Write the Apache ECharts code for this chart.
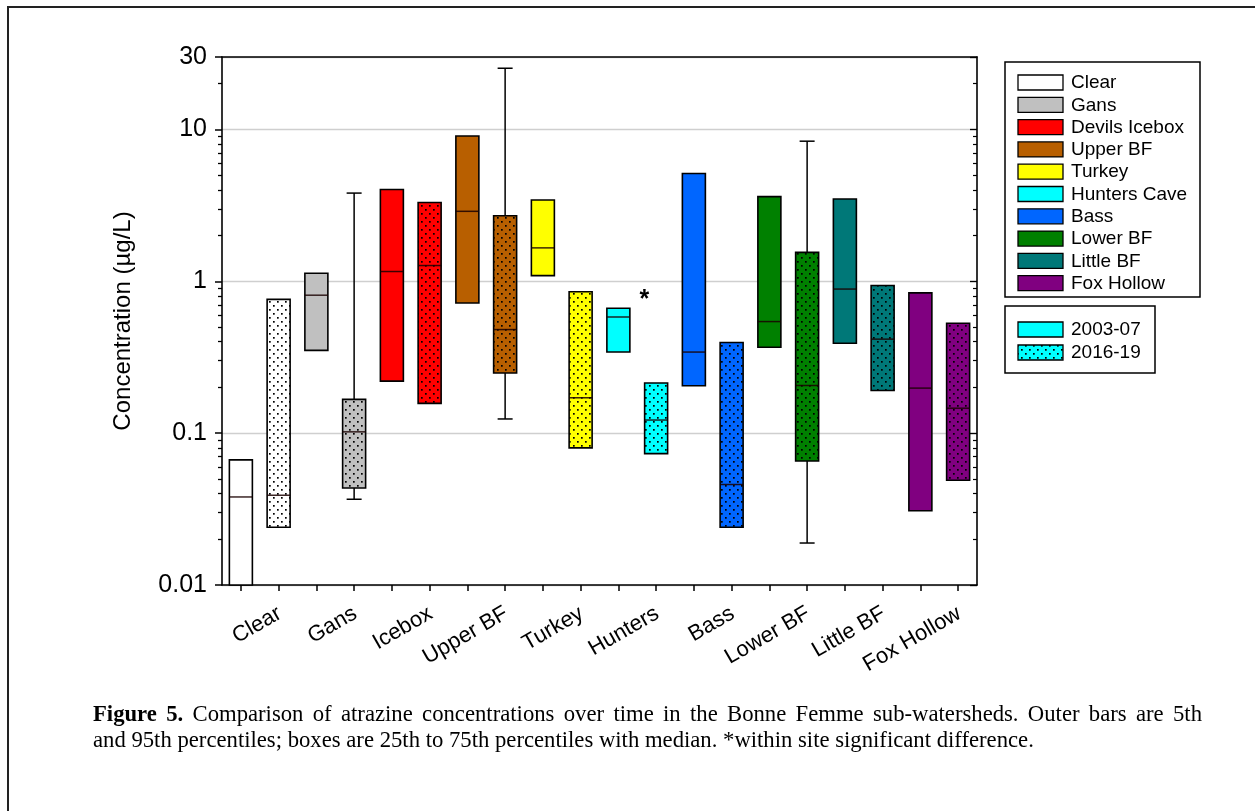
<!DOCTYPE html>
<html>
<head>
<meta charset="utf-8">
<title>Atrazine concentrations, Bonne Femme sub-watersheds</title>
<script src="https://cdn.jsdelivr.net/npm/echarts@6/dist/echarts.min.js"></script>
<style>
  html, body { margin: 0; padding: 0; background: #ffffff; }
  #chart { width: 1255px; height: 811px; }
</style>
</head>
<body>
<div id="chart"></div>
<script>
// ---- data ----------------------------------------------------------------
// Sub-watershed names (legend) and short names used under the axis
const sites = ['Clear', 'Gans', 'Devils Icebox', 'Upper BF', 'Turkey',
               'Hunters Cave', 'Bass', 'Lower BF', 'Little BF', 'Fox Hollow'];
const axisSites = ['Clear', 'Gans', 'Icebox', 'Upper BF', 'Turkey',
                   'Hunters', 'Bass', 'Lower BF', 'Little BF', 'Fox Hollow'];
const periods = ['2003-07', '2016-19'];
const siteColors = ['#ffffff', '#c0c0c0', '#ff0000', '#b85f00', '#ffff00',
                    '#00ffff', '#0066ff', '#008000', '#007878', '#800080'];

// One box per site and period (site order, 2003-07 first), atrazine in ug/L
const p5  = [null, null, null, 0.0367, null, null, null, 0.124, null, null,
             null, null, null, null, null, 0.0189, null, null, null, null];
const p25 = [0.01, 0.024, 0.351, 0.0435, 0.22, 0.157, 0.719, 0.249, 1.09, 0.080,
             0.342, 0.0733, 0.205, 0.024, 0.368, 0.0656, 0.391, 0.191, 0.0308, 0.049];
const p50 = [0.038, 0.039, 0.81, 0.102, 1.16, 1.27, 2.89, 0.481, 1.66, 0.171,
             0.582, 0.122, 0.342, 0.0459, 0.543, 0.206, 0.889, 0.416, 0.198, 0.146];
const p75 = [0.0667, 0.76, 1.13, 0.167, 4.02, 3.30, 9.06, 2.70, 3.43, 0.853,
             0.664, 0.214, 5.13, 0.395, 3.61, 1.55, 3.48, 0.938, 0.839, 0.529];
const p95 = [null, null, null, 3.81, null, null, null, 25.3, null, null,
             null, null, null, null, null, 8.37, null, null, null, null];

// Significant-difference marker (between the Hunters Cave boxes)
const starBox = 10;
const starShift = 0.69;
const starValue = 0.787;

// Axis ticks
const yMajorTicks = [0.01, 0.1, 1, 10, 30];
const yMinorTicks = [0.02, 0.03, 0.04, 0.05, 0.06, 0.07, 0.08, 0.09,
                     0.2, 0.3, 0.4, 0.5, 0.6, 0.7, 0.8, 0.9,
                     2, 3, 4, 5, 6, 7, 8, 9, 20];

const captionBold = 'Figure 5.';
const captionLine1 = 'Comparison of atrazine concentrations over time in the Bonne Femme sub-watersheds. Outer bars are 5th';
const captionLine2 = 'and 95th percentiles; boxes are 25th to 75th percentiles with median. *within site significant difference.';

// ---- helpers --------------------------------------------------------------
const SANS = '"Liberation Sans", Arial, Helvetica, sans-serif';
const SERIF = '"Liberation Serif", "Times New Roman", serif';

const boxKeys = [];
sites.forEach(s => periods.forEach(p => boxKeys.push(s + ' ' + p)));

// Stippled fill used for the 2016-19 boxes
function makeDots() {
  const c = document.createElement('canvas');
  c.width = 8; c.height = 8;
  const g = c.getContext('2d');
  g.fillStyle = '#000000';
  g.fillRect(1, 1, 1.7, 1.7);
  g.fillRect(5, 5, 1.7, 1.7);
  return c;
}
const dots = makeDots();
const dotFill = { image: dots, repeat: 'repeat' };

const boxData = boxKeys.map((k, i) => [i, p25[i], p50[i], p75[i], p5[i], p95[i]]);

const BOX_W = 23;
const CAP_W = 15;
const LINE = '#000000';

function renderBox(params, api) {
  const i = api.value(0);
  const site = Math.floor(i / 2);
  const dotted = i % 2 === 1;
  const cx = api.coord([i, 1])[0];
  const yLo = api.coord([i, api.value(1)])[1];
  const yMed = api.coord([i, api.value(2)])[1];
  const yHi = api.coord([i, api.value(3)])[1];
  const w5 = api.value(4), w95 = api.value(5);
  const x0 = cx - BOX_W / 2;
  const kids = [];
  const ln = { stroke: LINE, lineWidth: 1.5 };
  if (!isNaN(w95)) {
    const y95 = api.coord([i, w95])[1];
    kids.push({ type: 'line', shape: { x1: cx, y1: yHi, x2: cx, y2: y95 }, style: ln });
    kids.push({ type: 'line', shape: { x1: cx - CAP_W / 2, y1: y95, x2: cx + CAP_W / 2, y2: y95 }, style: ln });
  }
  if (!isNaN(w5)) {
    const y5 = api.coord([i, w5])[1];
    kids.push({ type: 'line', shape: { x1: cx, y1: yLo, x2: cx, y2: y5 }, style: ln });
    kids.push({ type: 'line', shape: { x1: cx - CAP_W / 2, y1: y5, x2: cx + CAP_W / 2, y2: y5 }, style: ln });
  }
  const rect = { x: x0, y: yHi, width: BOX_W, height: yLo - yHi };
  kids.push({ type: 'rect', shape: rect, style: { fill: siteColors[site] } });
  if (dotted) kids.push({ type: 'rect', shape: rect, style: { fill: dotFill } });
  kids.push({ type: 'rect', shape: rect, style: { fill: 'none', stroke: LINE, lineWidth: 1.6 } });
  kids.push({ type: 'line', shape: { x1: x0, y1: yMed, x2: x0 + BOX_W, y2: yMed },
              style: { stroke: '#1a0000', lineWidth: 1.5, opacity: 0.85 } });
  return { type: 'group', children: kids };
}

function renderStar(params, api) {
  const a = api.coord([starBox, starValue]);
  const b = api.coord([starBox + 1, starValue]);
  const x = a[0] + (b[0] - a[0]) * starShift;
  return { type: 'text', x: x, y: a[1] + 3,
           style: { text: '*', font: 'bold 25px ' + SANS, fill: '#000', align: 'center', verticalAlign: 'middle' } };
}

// ---- legends --------------------------------------------------------------
function legendGraphics() {
  const g = [];
  g.push({ type: 'rect', shape: { x: 1005, y: 62, width: 195, height: 235 },
           style: { fill: '#fff', stroke: '#000', lineWidth: 1.5 } });
  sites.forEach((s, k) => {
    const yc = 82 + k * 22.3;
    g.push({ type: 'rect', shape: { x: 1018, y: yc - 7, width: 45, height: 15 },
             style: { fill: siteColors[k], stroke: '#000', lineWidth: 1.3 } });
    g.push({ type: 'text', x: 1071, y: yc + 1,
             style: { text: s, fontSize: 19, fontFamily: SANS, fill: '#000', verticalAlign: 'middle' } });
  });
  g.push({ type: 'rect', shape: { x: 1005, y: 306, width: 150, height: 67 },
           style: { fill: '#fff', stroke: '#000', lineWidth: 1.5 } });
  periods.forEach((p, k) => {
    const yc = 329 + k * 23;
    const r = { x: 1018, y: yc - 7, width: 45, height: 15 };
    g.push({ type: 'rect', shape: r, style: { fill: siteColors[5] } });
    if (k === 1) g.push({ type: 'rect', shape: r, style: { fill: dotFill } });
    g.push({ type: 'rect', shape: r, style: { fill: 'none', stroke: '#000', lineWidth: 1.3 } });
    g.push({ type: 'text', x: 1071, y: yc + 1,
             style: { text: p, fontSize: 19, fontFamily: SANS, fill: '#000', verticalAlign: 'middle' } });
  });
  return g;
}

// ---- caption (first line justified to the text block width) ---------------
const CAP_SIZE = 22.7;
const CAP_LEFT = 93, CAP_RIGHT = 1202;
function captionGraphics() {
  const ctx = document.createElement('canvas').getContext('2d');
  const words = captionBold.split(' ').map(t => ({ t, b: true }))
    .concat(captionLine1.split(' ').map(t => ({ t, b: false })));
  let total = 0;
  words.forEach(w => {
    ctx.font = (w.b ? 'bold ' : '') + CAP_SIZE + 'px ' + SERIF;
    w.w = ctx.measureText(w.t).width;
    total += w.w;
  });
  const gap = (CAP_RIGHT - CAP_LEFT - total) / (words.length - 1);
  const g = [];
  let x = CAP_LEFT;
  words.forEach(w => {
    g.push({ type: 'text', x: x, y: 715,
             style: { text: w.t, fontSize: CAP_SIZE, fontFamily: SERIF,
                      fontWeight: w.b ? 'bold' : 'normal', fill: '#000', verticalAlign: 'middle' } });
    x += w.w + gap;
  });
  g.push({ type: 'text', x: CAP_LEFT, y: 741,
           style: { text: captionLine2, fontSize: CAP_SIZE, fontFamily: SERIF, fill: '#000', verticalAlign: 'middle' } });
  return g;
}

// ---- chart ----------------------------------------------------------------
const chart = echarts.init(document.getElementById('chart'), null, { renderer: 'canvas' });

const PLOT = { left: 222, top: 57, width: 755, height: 528 };
const LABEL_SHIFT = 20;

const logAxisBase = { type: 'log', logBase: 10, min: 0.01, max: 30, gridIndex: 0 };

const option = {
  backgroundColor: '#ffffff',
  animation: false,
  grid: [
    { left: PLOT.left, top: PLOT.top, width: PLOT.width, height: PLOT.height },
    { left: PLOT.left + LABEL_SHIFT, top: PLOT.top, width: PLOT.width, height: PLOT.height, show: false }
  ],
  xAxis: [
    { type: 'category', gridIndex: 0, data: boxKeys, position: 'bottom',
      axisLine: { show: true, lineStyle: { color: '#000', width: 1.6 } },
      axisTick: { show: true, interval: 0, alignWithLabel: true, length: 6, lineStyle: { color: '#000', width: 1.5 } },
      axisLabel: { show: false, interval: 0 }, splitLine: { show: false } },
    { type: 'category', gridIndex: 0, data: boxKeys, position: 'top',
      axisLine: { show: true, lineStyle: { color: '#000', width: 1.6 } },
      axisTick: { show: false }, axisLabel: { show: false } },
    { type: 'category', gridIndex: 1, data: axisSites, position: 'bottom',
      axisLine: { show: false }, axisTick: { show: false },
      axisLabel: { show: true, rotate: 30, margin: 27, interval: 0,
                   color: '#000', fontSize: 22, fontFamily: SANS } }
  ],
  yAxis: [
    Object.assign({}, logAxisBase, {
      position: 'left',
      name: 'Concentration (\u00b5g/L)', nameLocation: 'middle', nameGap: 87,
      nameTextStyle: { color: '#000', fontSize: 24, fontFamily: SANS },
      axisLine: { show: true, lineStyle: { color: '#000', width: 1.6 } },
      axisTick: { show: true, customValues: yMajorTicks, length: 7, lineStyle: { color: '#000', width: 1.5 } },
      axisLabel: { show: true, customValues: yMajorTicks, margin: 15, color: '#000',
                   fontSize: 25, fontFamily: SANS,
                   formatter: v => String(parseFloat(Number(v).toPrecision(3))) },
      splitLine: { show: true, lineStyle: { color: '#cfcfcf', width: 1.3 } }
    }),
    Object.assign({}, logAxisBase, {
      position: 'left',
      axisLine: { show: false },
      axisTick: { show: true, customValues: yMinorTicks, length: 4, lineStyle: { color: '#000', width: 1.3 } },
      axisLabel: { show: false }, splitLine: { show: false }
    }),
    Object.assign({}, logAxisBase, {
      position: 'right',
      axisLine: { show: true, lineStyle: { color: '#000', width: 1.6 } },
      axisTick: { show: true, inside: true, customValues: yMajorTicks, length: 7, lineStyle: { color: '#000', width: 1.3 } },
      axisLabel: { show: false }, splitLine: { show: false }
    }),
    Object.assign({}, logAxisBase, {
      position: 'right',
      axisLine: { show: false },
      axisTick: { show: true, inside: true, customValues: yMinorTicks, length: 4, lineStyle: { color: '#000', width: 1.2 } },
      axisLabel: { show: false }, splitLine: { show: false }
    }),
    { type: 'value', gridIndex: 1, show: false }
  ],
  series: [
    { type: 'custom', name: 'boxes', xAxisIndex: 0, yAxisIndex: 0,
      renderItem: renderBox, data: boxData, clip: false, z: 3,
      encode: { x: 0, y: [1, 2, 3] } },
    { type: 'custom', name: 'marker', xAxisIndex: 0, yAxisIndex: 0,
      renderItem: renderStar, data: [[starBox, starValue]], z: 4 }
  ],
  graphic: [
    // figure frame (top and left edges)
    { type: 'polyline', shape: { points: [[8, 811], [8, 7], [1255, 7]] },
      style: { stroke: '#222', lineWidth: 2, fill: 'none' } },
    ...legendGraphics(),
    ...captionGraphics()
  ]
};

chart.setOption(option);
</script>
</body>
</html>
